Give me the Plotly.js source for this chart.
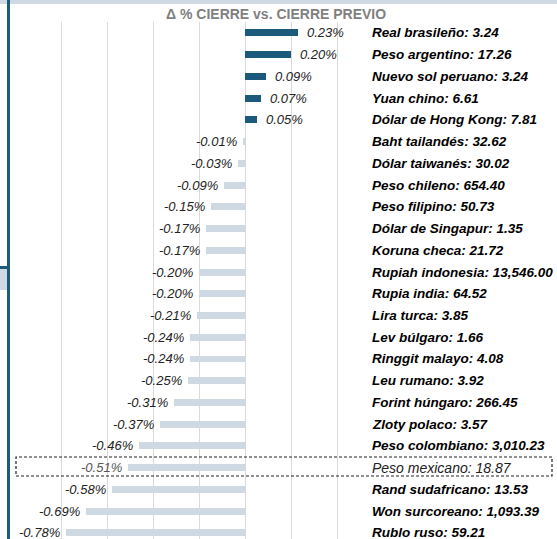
<!DOCTYPE html>
<html>
<head>
<meta charset="utf-8">
<script src="https://cdn.plot.ly/plotly-3.0.1.min.js"></script>
<style>
html,body{margin:0;padding:0;overflow:hidden;background:#fff;}
#chart{width:557px;height:539px;}
</style>
</head>
<body>
<div id="chart"></div>
<script>
const currencies = ['Real brasileño','Peso argentino','Nuevo sol peruano','Yuan chino','Dólar de Hong Kong','Baht tailandés','Dólar taiwanés','Peso chileno','Peso filipino','Dólar de Singapur','Koruna checa','Rupiah indonesia','Rupia india','Lira turca','Lev búlgaro','Ringgit malayo','Leu rumano','Forint húngaro','Zloty polaco','Peso colombiano','Peso mexicano','Rand sudafricano','Won surcoreano','Rublo ruso'];
const changePct = [0.23,0.20,0.09,0.07,0.05,-0.01,-0.03,-0.09,-0.15,-0.17,-0.17,-0.20,-0.20,-0.21,-0.24,-0.24,-0.25,-0.31,-0.37,-0.46,-0.51,-0.58,-0.69,-0.78];
const closeRates = ['3.24','17.26','3.24','6.61','7.81','32.62','30.02','654.40','50.73','1.35','21.72','13,546.00','64.52','3.85','1.66','4.08','3.92','266.45','3.57','3,010.23','18.87','13.53','1,093.39','59.21'];
const highlight = 'Peso mexicano';
const chartTitle = 'Δ % CIERRE vs. CIERRE PREVIO';

const W = 557, H = 539;
const px = v => v / W;
const py = v => (H - v) / H;

const DARK = '#1b5a7b';
const LIGHT = '#cfd9e4';
const FONT = 'Liberation Sans, Arial, sans-serif';

const trace = {
  type: 'bar',
  orientation: 'h',
  y: currencies,
  x: changePct,
  width: 0.32,
  marker: {color: changePct.map(v => v >= 0 ? DARK : LIGHT)},
  hoverinfo: 'none'
};

const annotations = [];
currencies.forEach((c, i) => {
  const v = changePct[i];
  const isH = c === highlight;
  annotations.push({
    xref: 'x', yref: 'y', x: v, y: c,
    text: v.toFixed(2) + '%',
    showarrow: false,
    xanchor: v >= 0 ? 'left' : 'right',
    xshift: v >= 0 ? 7 : -4,
    font: {family: FONT, size: 13, color: isH ? '#555' : '#222', style: 'italic'}
  });
  annotations.push({
    xref: 'paper', yref: 'y', x: px(370), y: c,
    text: c + ': ' + closeRates[i],
    showarrow: false,
    xanchor: 'left',
    font: {family: FONT, size: isH ? 14 : 13.5, color: isH ? '#222' : '#000', style: 'italic', weight: isH ? 'normal' : 'bold'}
  });
});
annotations.push({
  xref: 'paper', yref: 'paper', x: px(276), y: py(14),
  text: chartTitle, showarrow: false, xanchor: 'center', yanchor: 'middle',
  font: {family: FONT, size: 14, color: '#808080', weight: 'bold'}
});

const shapes = [
  {type:'rect', xref:'paper', yref:'paper', x0:0, x1:1, y0:py(4), y1:1, fillcolor:'#cfd9e3', line:{width:0}, layer:'below'},
  {type:'rect', xref:'paper', yref:'paper', x0:px(7), x1:px(10), y0:0, y1:1, fillcolor:DARK, line:{width:0}},
  {type:'rect', xref:'paper', yref:'paper', x0:0, x1:px(7), y0:py(290), y1:py(269), fillcolor:'#d0dae4', line:{width:0}},
  {type:'rect', xref:'paper', yref:'paper', x0:0, x1:px(7), y0:py(269), y1:py(266), fillcolor:DARK, line:{width:0}},
  {type:'rect', xref:'paper', yref:'paper', x0:px(16), x1:px(552), y0:py(476), y1:py(457), fillcolor:'rgba(0,0,0,0)', line:{color:'#222', width:1.2, dash:'3px,2px'}}
];

const layout = {
  width: W, height: H,
  margin: {l:0, r:0, t:0, b:0},
  paper_bgcolor: '#fff', plot_bgcolor: '#fff',
  showlegend: false,
  xaxis: {
    domain: [px(15), px(360)],
    range: [-1.0, 0.5],
    tick0: 0, dtick: 0.2,
    showgrid: true, gridcolor: '#d9d9d9', gridwidth: 1,
    zeroline: false, showticklabels: false, ticks: '', showline: false, fixedrange: true
  },
  yaxis: {
    domain: [0, py(22)],
    type: 'category',
    range: [23.28, -0.5],
    showgrid: false, zeroline: false, showticklabels: false, ticks: '', showline: false, fixedrange: true
  },
  annotations: annotations,
  shapes: shapes,
  bargap: 0
};

Plotly.newPlot('chart', [trace], layout, {displayModeBar: false, staticPlot: true});
</script>
</body>
</html>
